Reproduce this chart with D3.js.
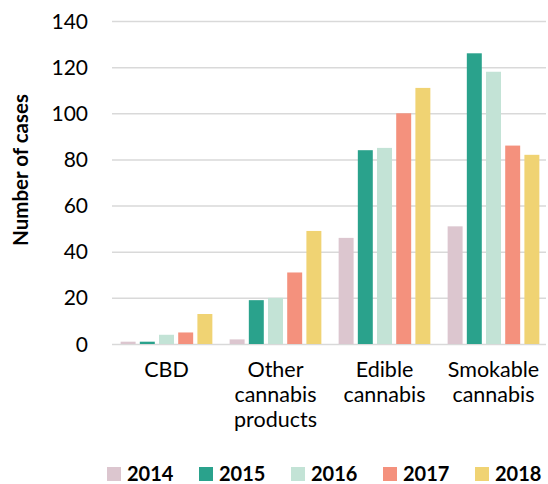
<!DOCTYPE html>
<html lang="en">
<head>
<meta charset="UTF-8"/>
<script src="https://d3js.org/d3.v7.min.js"></script>
<style>
  body { margin: 0; background: #fff; font-family: Lato, 'Open Sans', sans-serif; }
  svg { display: block; }
  .grid line { stroke: #d9d9d9; stroke-width: 1.5; }
  .grid path { stroke-width: 0; }
  text.tick { font-size: 21px; fill: #000; }
  text.cat { font-size: 21.5px; fill: #000; }
  text.label { font-size: 20.5px; font-weight: 700; }
  text.legend { font-size: 20px; font-weight: 700; }
</style>
</head>
<body>
<svg width="548" height="484"></svg>
<script>
// case counts by product type, per year
const categories = [['CBD'], ['Other', 'cannabis', 'products'], ['Edible', 'cannabis'], ['Smokable', 'cannabis']];
const years = ['2014', '2015', '2016', '2017', '2018'];
const colors = ['#dcc6cf', '#2aa28c', '#c3e3d6', '#f4917d', '#f0d373'];
const v2014 = [1, 2, 46, 51];
const v2015 = [1, 19, 84, 126];
const v2016 = [4, 20, 85, 118];
const v2017 = [5, 31, 100, 86];
const v2018 = [13, 49, 111, 82];
const yTicks = [0, 20, 40, 60, 80, 100, 120, 140];

const series = [v2014, v2015, v2016, v2017, v2018];
const catKeys = categories.map(c => c.join(' '));

const svg = d3.select('svg');
const plotLeft = 112, plotRight = 548, plotTop = 21, plotBottom = 344;

const x0 = d3.scaleBand().domain(catKeys).range([plotLeft, plotRight]).paddingInner(0).paddingOuter(0);
const x1 = d3.scaleBand().domain(years).range([0, x0.bandwidth()]).paddingInner(0.22).paddingOuter(0.45);
const y = d3.scaleLinear().domain([0, 140]).range([plotBottom, plotTop]);

// gridlines
svg.append('g')
  .attr('class', 'grid')
  .attr('transform', `translate(${plotLeft},0)`)
  .call(d3.axisLeft(y).tickValues(yTicks).tickSize(-(plotRight - plotLeft - 2)).tickFormat(''));

svg.selectAll('text.tick')
  .data(yTicks)
  .enter().append('text')
  .attr('class', 'tick')
  .attr('x', 88)
  .attr('y', d => y(d))
  .attr('dy', '0.36em')
  .attr('text-anchor', 'end')
  .text(d => d);

// bars
const groups = svg.selectAll('g.cat')
  .data(catKeys)
  .enter().append('g')
  .attr('transform', d => `translate(${x0(d)},0)`);

groups.selectAll('rect')
  .data((d, i) => years.map((yr, j) => ({ yr, j, v: series[j][i] })))
  .enter().append('rect')
  .attr('x', d => x1(d.yr))
  .attr('width', x1.bandwidth())
  .attr('y', d => y(d.v))
  .attr('height', d => y(0) - y(d.v))
  .attr('fill', d => colors[d.j]);

// category labels
categories.forEach((lines, i) => {
  const cx = x0(catKeys[i]) + x0.bandwidth() / 2;
  const t = svg.append('text').attr('class', 'cat').attr('text-anchor', 'middle');
  lines.forEach((ln, k) => {
    t.append('tspan').attr('x', cx).attr('y', 377 + k * 25).text(ln);
  });
});

// y label
svg.append('text')
  .attr('class', 'label')
  .attr('transform', 'translate(28,170) rotate(-90)')
  .attr('text-anchor', 'middle')
  .text('Number of cases');

// legend
const leg = svg.selectAll('g.leg')
  .data(years)
  .enter().append('g')
  .attr('transform', (d, i) => `translate(${107 + i * 92},467)`);
leg.append('rect').attr('width', 14).attr('height', 14).attr('fill', (d, i) => colors[i]);
leg.append('text').attr('class', 'legend').attr('x', 20).attr('y', 14).text(d => d);
</script>
</body>
</html>
